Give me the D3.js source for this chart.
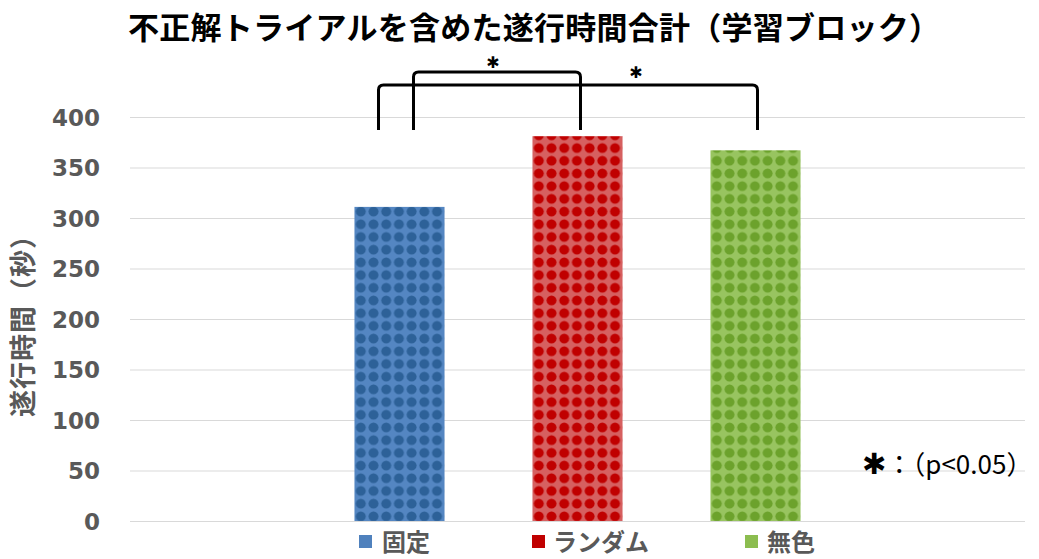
<!DOCTYPE html>
<html>
<head>
<meta charset="utf-8">
<script src="https://cdn.jsdelivr.net/npm/d3@7"></script>
<style>
  html, body { margin: 0; padding: 0; background: #fff; }
  svg { display: block; }
</style>
</head>
<body>
<svg id="chart" width="1039" height="559"></svg>
<script>
// ---- data ----
const series = ["固定", "ランダム", "無色"];
const values = [311, 381, 367];
const yTicks = [0, 50, 100, 150, 200, 250, 300, 350, 400];
const significance = [
  { from: "固定", to: "無色", label: "✱" },
  { from: "固定", to: "ランダム", label: "✱" }
];
const titleText = "不正解トライアルを含めた遂行時間合計（学習ブロック）";
const yLabel = "遂行時間（秒）";
const noteStar = "✱";
const noteText = "：（p<0.05）";

// ---- styles ----
const palette = {
  "固定":   { dark: "#2D6198", light: "#5486C2", swatch: "#4F81BD" },
  "ランダム": { dark: "#C00000", light: "#D66060", swatch: "#C00000" },
  "無色":   { dark: "#6CA22C", light: "#98C460", swatch: "#8CBD50" }
};
const jp = "'Noto Sans CJK JP', 'Noto Sans CJK SC', sans-serif";

const svg = d3.select("#chart");
const margin = { left: 130, right: 1025, top: 117, bottom: 521 };

const x = d3.scaleBand().domain(series)
  .range([margin.left, margin.right])
  .paddingInner(0.494).paddingOuter(1.261);
const y = d3.scaleLinear().domain([0, 400]).range([margin.bottom, margin.top]);

// patterns
const defs = svg.append("defs");
const tile = 12.7;
function makePattern(id, c, ox, oy) {
  const p = defs.append("pattern").attr("id", id)
    .attr("patternUnits", "userSpaceOnUse")
    .attr("width", tile).attr("height", tile)
    .attr("x", ox).attr("y", oy);
  p.append("rect").attr("width", tile).attr("height", tile).attr("fill", c.light);
  p.append("circle").attr("cx", tile / 2).attr("cy", tile / 2).attr("r", 5.0).attr("fill", c.dark);
}
series.forEach((s, i) => makePattern("pat" + i, palette[s], x(s), 2));

// gridlines + ticks
const yAxis = d3.axisLeft(y).tickValues(yTicks).tickSize(-(margin.right - margin.left)).tickPadding(30);
const gy = svg.append("g").attr("transform", `translate(${margin.left},0)`).call(yAxis);
gy.select(".domain").remove();
gy.selectAll(".tick line").attr("stroke", "#D9D9D9").attr("stroke-width", 1);
gy.selectAll(".tick text")
  .attr("x", 100 - margin.left)
  .attr("fill", "#595959")
  .style("font-family", "'DejaVu Sans', sans-serif")
  .style("font-weight", "bold")
  .style("font-size", "23px")
  .attr("dy", "0.36em");

// bars
svg.append("g").selectAll("rect").data(series).join("rect")
  .attr("x", d => x(d))
  .attr("width", x.bandwidth())
  .attr("y", (d, i) => y(values[i]))
  .attr("height", (d, i) => y(0) - y(values[i]))
  .attr("fill", (d, i) => `url(#pat${i})`);

// title
svg.append("text")
  .attr("x", 534).attr("y", 39)
  .attr("text-anchor", "middle")
  .attr("textLength", 812).attr("lengthAdjust", "spacing")
  .style("font-family", jp).style("font-weight", "bold").style("font-size", "31px")
  .attr("fill", "#000")
  .text(titleText);

// y label
svg.append("text")
  .attr("transform", `translate(33,${(margin.top + margin.bottom) / 2}) rotate(-90)`)
  .attr("text-anchor", "middle")
  .style("font-family", jp).style("font-weight", "bold").style("font-size", "27px")
  .style("letter-spacing", "1px")
  .attr("fill", "#595959")
  .text(yLabel);

// significance brackets
const bracketLayout = [
  { left: -21, right: 2, top: 85, bottom: 130, starX: 636, starY: 72 },
  { left: 14, right: 3, top: 72, bottom: 130, starX: 493, starY: 62 }
];
const bg = svg.append("g");
significance.forEach((s, i) => {
  const L = bracketLayout[i];
  const x1 = x(s.from) + x.bandwidth() / 2 + L.left;
  const x2 = x(s.to) + x.bandwidth() / 2 + L.right;
  const r = 5;
  const path = d3.path();
  path.moveTo(x1, L.bottom);
  path.lineTo(x1, L.top + r);
  path.quadraticCurveTo(x1, L.top, x1 + r, L.top);
  path.lineTo(x2 - r, L.top);
  path.quadraticCurveTo(x2, L.top, x2, L.top + r);
  path.lineTo(x2, L.bottom);
  bg.append("path").attr("d", path.toString())
    .attr("fill", "none").attr("stroke", "#000").attr("stroke-width", 3);
  bg.append("text").attr("x", L.starX).attr("y", L.starY)
    .attr("text-anchor", "middle").attr("dominant-baseline", "central")
    .style("font-family", "'DejaVu Sans', sans-serif").style("font-size", "16px")
    .text(s.label);
});

// note
const note = svg.append("text")
  .attr("x", 862).attr("y", 474)
  .style("font-family", jp).style("font-size", "26px")
  .attr("fill", "#000");
note.append("tspan").style("font-family", "'DejaVu Sans', sans-serif").style("font-size", "29px").text(noteStar);
note.append("tspan").text(noteText);

// legend
const legendLayout = [
  { sx: 359, tx: 382 },
  { sx: 532, tx: 553 },
  { sx: 745, tx: 767 }
];
const lg = svg.append("g");
series.forEach((s, i) => {
  const L = legendLayout[i];
  lg.append("rect").attr("x", L.sx).attr("y", 535).attr("width", 13).attr("height", 13)
    .attr("fill", palette[s].swatch);
  lg.append("text").attr("x", L.tx).attr("y", 551)
    .style("font-family", jp).style("font-weight", "bold").style("font-size", "24px")
    .attr("fill", "#595959")
    .text(s);
});
</script>
</body>
</html>
